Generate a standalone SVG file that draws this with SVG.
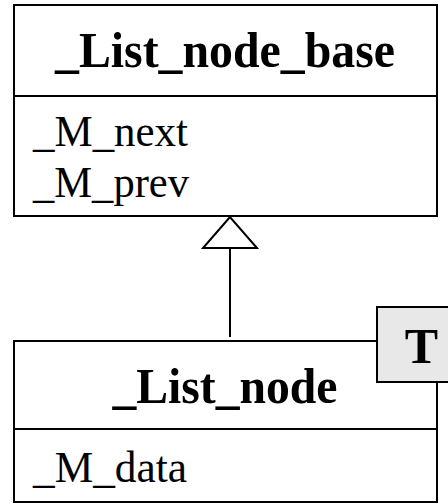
<svg xmlns="http://www.w3.org/2000/svg" width="448" height="504" viewBox="0 0 448 504">
<style>
.box{fill:#fff;stroke:#000;stroke-width:2}
.sep{stroke:#000;stroke-width:2}
.title{font-family:'Liberation Serif',serif;font-weight:bold;font-size:50px;text-anchor:middle}
.attr{font-family:'Liberation Serif',serif;font-size:44px}
.conn{stroke:#000;stroke-width:2;fill:none}
</style>
<rect width="448" height="504" fill="#fff"/>
<g id="connectors">
<line class="conn" x1="230" y1="248" x2="230" y2="337"/>
<polygon points="230,217 203,248 257,248" fill="#fff" stroke="#000" stroke-width="2"/>
</g>
<g id="List_node_base">
<rect class="box" x="14" y="5" width="423" height="211"/>
<line class="sep" x1="14" y1="96" x2="437" y2="96"/>
<text class="title" x="225" y="67" textLength="340" lengthAdjust="spacingAndGlyphs">_List_node_base</text>
<text class="attr" x="33" y="146" textLength="155" lengthAdjust="spacingAndGlyphs">_M_next</text>
<text class="attr" x="33" y="197" textLength="156" lengthAdjust="spacingAndGlyphs">_M_prev</text>
</g>
<g id="List_node">
<rect class="box" x="14" y="341" width="423" height="161"/>
<line class="sep" x1="14" y1="429" x2="437" y2="429"/>
<text class="title" x="225" y="403" textLength="225" lengthAdjust="spacingAndGlyphs">_List_node</text>
<text class="attr" x="33" y="482" textLength="154" lengthAdjust="spacingAndGlyphs">_M_data</text>
</g>
<g id="template_param">
<rect x="377" y="307" width="89" height="75" fill="#e8e8e8" stroke="#000" stroke-width="2"/>
<text class="title" x="421.5" y="363">T</text>
</g>
</svg>
